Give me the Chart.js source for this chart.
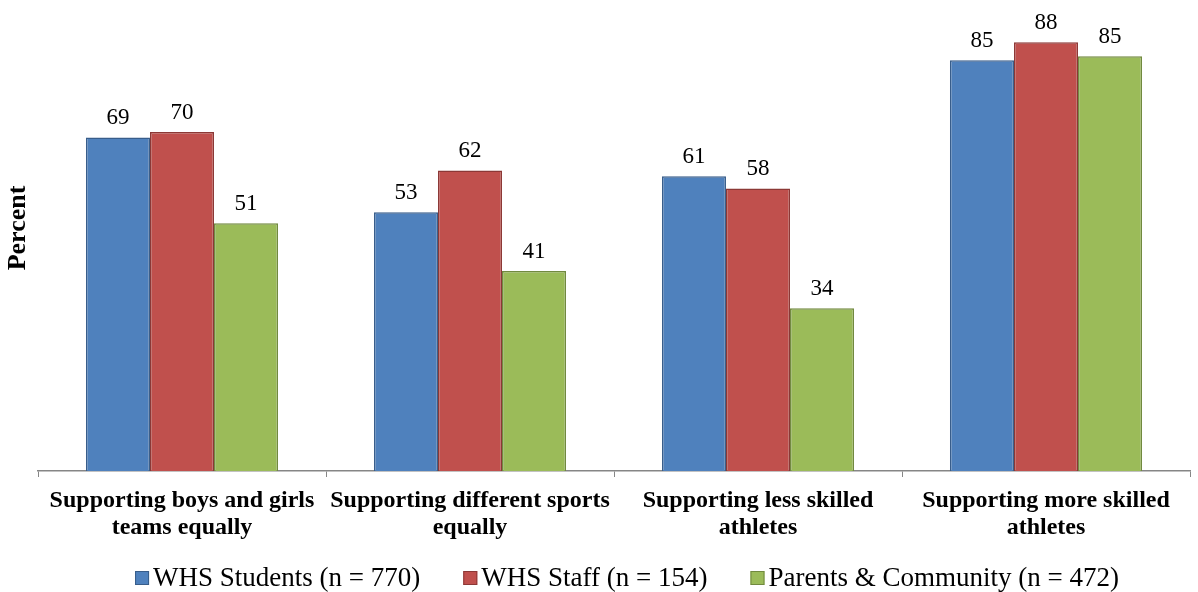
<!DOCTYPE html>
<html>
<head>
<meta charset="utf-8">
<script src="https://cdn.jsdelivr.net/npm/chart.js@4/dist/chart.umd.min.js"></script>
<style>
  html, body { margin: 0; padding: 0; background: #fff; }
  #wrap { width: 1198px; height: 592px; }
</style>
</head>
<body>
<div id="wrap"><canvas id="supportChart"></canvas></div>
<script>
'use strict'

const categories = [
    ['Supporting boys and girls', 'teams equally'],
    ['Supporting different sports', 'equally'],
    ['Supporting less skilled', 'athletes'],
    ['Supporting more skilled', 'athletes']
];
const seriesNames = ['WHS Students (n = 770)', 'WHS Staff (n = 154)', 'Parents & Community (n = 472)'];
const students = [68.7, 53.3, 60.7, 84.6];
const staff = [69.8, 61.9, 58.2, 88.3];
const parents = [51.0, 41.2, 33.5, 85.4];

const serif = '"Liberation Serif", "Times New Roman", serif';

// value labels above each bar
const valueLabels = {
    id: 'valueLabels',
    afterDatasetsDraw(chart) {
        const ctx = chart.ctx;
        ctx.save();
        ctx.font = '23px ' + serif;
        ctx.fillStyle = '#000';
        ctx.textAlign = 'center';
        ctx.textBaseline = 'alphabetic';
        chart.data.datasets.forEach((ds, i) => {
            chart.getDatasetMeta(i).data.forEach((bar, j) => {
                ctx.fillText(Math.round(ds.data[j]), bar.x, bar.y - 13);
            });
        });
        ctx.restore();
    }
};

// rotated "Percent" title, placed like the original (not centred on the plot)
const yTitle = {
    id: 'yTitle',
    afterDraw(chart) {
        const ctx = chart.ctx;
        ctx.save();
        ctx.translate(18, 228);
        ctx.rotate(-Math.PI / 2);
        ctx.font = 'bold 26px ' + serif;
        ctx.fillStyle = '#000';
        ctx.textAlign = 'center';
        ctx.textBaseline = 'middle';
        ctx.fillText('Percent', 0, 0);
        ctx.restore();
    }
};

// legend drawn on the canvas with a tight box/text gap
const bottomLegend = {
    id: 'bottomLegend',
    afterDraw(chart, args, opts) {
        const ctx = chart.ctx;
        const items = chart.data.datasets;
        ctx.save();
        ctx.font = '27px ' + serif;
        const widths = items.map(ds => opts.box + opts.gap + ctx.measureText(ds.label).width);
        const total = widths.reduce((a, b) => a + b, 0) + opts.spacing * (items.length - 1);
        let x = opts.centerX - total / 2;
        items.forEach((ds, i) => {
            ctx.fillStyle = ds.backgroundColor;
            ctx.fillRect(x, opts.y - opts.box / 2, opts.box, opts.box);
            ctx.strokeStyle = ds.borderColor;
            ctx.lineWidth = 1;
            ctx.strokeRect(x + 0.5, opts.y - opts.box / 2 + 0.5, opts.box - 1, opts.box - 1);
            ctx.fillStyle = '#000';
            ctx.textAlign = 'left';
            ctx.textBaseline = 'middle';
            ctx.fillText(ds.label, x + opts.box + opts.gap, opts.y + 1);
            x += widths[i] + opts.spacing;
        });
        ctx.restore();
    }
};

let supportChart = document.querySelector('#supportChart');
new Chart(supportChart, {
    type: 'bar',
    data: {
        labels: categories,
        datasets: [
            { label: seriesNames[0], data: students, backgroundColor: '#4F81BD', borderColor: '#385D8A', borderWidth: 1.5 },
            { label: seriesNames[1], data: staff, backgroundColor: '#C0504D', borderColor: '#8C3836', borderWidth: 1.5 },
            { label: seriesNames[2], data: parents, backgroundColor: '#9BBB59', borderColor: '#71893F', borderWidth: 1.5 }
        ]
    },
    options: {
        responsive: true,
        maintainAspectRatio: false,
        animation: false,
        layout: { padding: { top: 34, right: 8, left: 0, bottom: 0 } },
        datasets: {
            bar: { categoryPercentage: 0.667, barPercentage: 1.0 }
        },
        scales: {
            x: {
                grid: { display: true, drawOnChartArea: false, tickLength: 6, color: '#868686', offset: true },
                border: { color: '#868686', width: 1.5 },
                ticks: {
                    color: '#000',
                    font: { family: serif, size: 24, weight: 'bold', lineHeight: 1.13 },
                    maxRotation: 0,
                    padding: 10
                },
                afterFit(scale) { scale.height = 121; }
            },
            y: {
                min: 0,
                max: 90,
                grid: { display: false },
                border: { display: false },
                ticks: { display: false },
                afterFit(scale) { scale.width = 38; }
            }
        },
        plugins: {
            legend: { display: false },
            tooltip: { enabled: false },
            bottomLegend: { y: 578, centerX: 627, box: 14, gap: 4, spacing: 43 }
        }
    },
    plugins: [valueLabels, yTitle, bottomLegend]
});
</script>
</body>
</html>
